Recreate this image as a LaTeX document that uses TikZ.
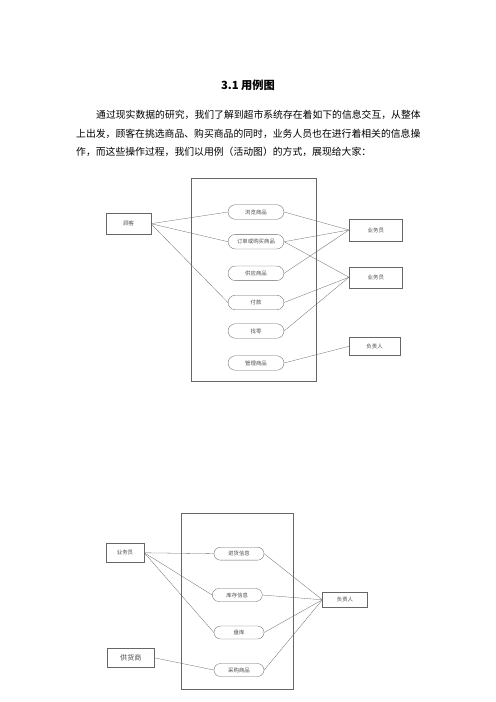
\documentclass[tikz,border=0pt]{standalone}
\usepackage{fontspec}
\setmainfont{Noto Sans CJK SC}
\usetikzlibrary{shapes.misc}

\tikzset{
  usecase/.style = {rounded rectangle, draw=black!60, inner sep=0pt, font=\fontsize{6.5}{7}\selectfont, text=black!70},
  actor/.style = {rectangle, draw=black!60, inner sep=0pt, font=\fontsize{6.5}{7}\selectfont, text=black!70},
  link/.style = {draw=black!60, line width=0.35pt},
  para/.style = {anchor=west, inner sep=0pt, font=\fontsize{11.8}{12}\selectfont}
}

\begin{document}
\begin{tikzpicture}[x=1.2pt, y=-1.2pt]
\useasboundingbox (0,0) rectangle (496,702);

\node[font=\fontsize{13.5}{14}\selectfont\bfseries, inner sep=0pt] (title) at (248,85) {3.1 用例图};
\node[para] (l1) at (96,115) {通过现实数据的研究，我们了解到超市系统存在着如下的信息交互，从整体};
\node[para] (l2) at (76,133.5) {上出发，顾客在挑选商品、购买商品的同时，业务人员也在进行着相关的信息操};
\node[para] (l3) at (76,152) {作，而这些操作过程，我们以用例（活动图）的方式，展现给大家：};

\draw[draw=black!60, line width=0.4pt] (190.7,178.3) rectangle (316,380.7);

\node[actor, minimum width=53pt, minimum height=25.6pt] (guke) at (128.7,223.7) {顾客};
\node[actor, minimum width=64pt, minimum height=25.6pt] (yw1) at (375.8,230) {业务员};
\node[actor, minimum width=64pt, minimum height=25.2pt] (yw2) at (375.8,277.2) {业务员};
\node[actor, minimum width=61pt, minimum height=21pt] (fz1) at (374.6,346.3) {负责人};

\node[usecase, minimum width=67pt, minimum height=17.5pt] (browse) at (256,212) {浏览商品};
\node[usecase, minimum width=67pt, minimum height=17.5pt] (order) at (256,241.7) {订单或购买商品};
\node[usecase, minimum width=67pt, minimum height=17.5pt] (supply) at (256,273.3) {供应商品};
\node[usecase, minimum width=67pt, minimum height=17.5pt] (pay) at (256,302.5) {付款};
\node[usecase, minimum width=67pt, minimum height=17.5pt] (change) at (256,331) {找零};
\node[usecase, minimum width=67pt, minimum height=17.5pt] (manage) at (256,363) {管理商品};

\draw[link] (guke.east) -- (browse.west);
\draw[link] (guke.east) -- (order.west);
\draw[link] (guke.east) -- (pay.west);
\draw[link] (browse.east) -- (yw1.west);
\draw[link] (order.east) -- (yw1.west);
\draw[link] (supply.east) -- (yw1.west);
\draw[link] (order.east) -- (yw2.west);
\draw[link] (pay.east) -- (yw2.west);
\draw[link] (change.east) -- (yw2.west);
\draw[link] (manage.east) -- (fz1.west);

\draw[draw=black!60, line width=0.4pt] (180.7,513.3) rectangle (292.7,689.3);

\node[actor, minimum width=46pt, minimum height=23pt] (yw3) at (125,552.8) {业务员};
\node[actor, minimum width=56pt, minimum height=23pt, font=\fontsize{8.5}{9}\selectfont] (ghs) at (130.8,657.8) {供货商};
\node[actor, minimum width=54pt, minimum height=18pt] (fz2) at (345,599.8) {负责人};

\node[usecase, minimum width=60pt, minimum height=15.5pt] (jinhuo) at (239,553.7) {进货信息};
\node[usecase, minimum width=60pt, minimum height=15.5pt] (kucun) at (237.3,595) {库存信息};
\node[usecase, minimum width=60pt, minimum height=15.5pt] (panku) at (239,632.5) {盘库};
\node[usecase, minimum width=60pt, minimum height=15.5pt] (caigou) at (239,670) {采购商品};

\draw[link] (yw3.east) -- (jinhuo.west);
\draw[link] (yw3.east) -- (kucun.west);
\draw[link] (yw3.east) -- (panku.west);
\draw[link] (ghs.east) -- (caigou.west);
\draw[link] (jinhuo.east) -- (fz2.west);
\draw[link] (kucun.east) -- (fz2.west);
\draw[link] (panku.east) -- (fz2.west);
\draw[link] (caigou.east) -- (fz2.west);
\end{tikzpicture}
\end{document}
